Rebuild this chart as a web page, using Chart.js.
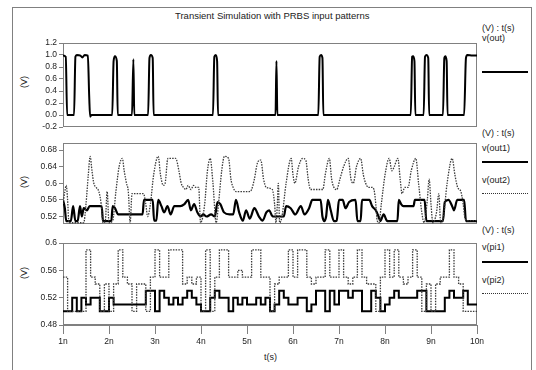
<!DOCTYPE html>
<html>
<head>
<meta charset="utf-8">
<script src="https://cdn.jsdelivr.net/npm/chart.js@4.4.1/dist/chart.umd.min.js"></script>
<style>
  body { margin: 0; width: 536px; height: 370px; background: #fff; position: relative; overflow: hidden;
         font-family: "Liberation Sans", Arial, sans-serif; color: #222; }
  .frame { position: absolute; left: 12px; top: 7px; width: 520px; height: 380px; border: 1px solid #808080; box-sizing: border-box; }
  canvas { position: absolute; left: 0; }
  .t { position: absolute; font-size: 9px; line-height: 10px; white-space: nowrap; }
  .ylab { position: absolute; left: 14px; width: 20px; text-align: center; font-size: 9px; line-height: 10px; transform: rotate(-90deg); }
  .sw { position: absolute; left: 482px; width: 46px; height: 0; }
</style>
</head>
<body>
<div class="frame"></div>
<div class="t" style="left:175px;top:11px;font-size:9.5px">Transient Simulation with PRBS input patterns</div>

<div class="t" style="left:482px;top:23px">(V) : t(s)</div>
<div class="t" style="left:482px;top:33px">v(out)</div>
<div class="sw" style="top:71px;border-top:2px solid #000"></div>

<div class="t" style="left:482px;top:128px">(V) : t(s)</div>
<div class="t" style="left:482px;top:143px">v(out1)</div>
<div class="sw" style="top:161px;border-top:2px solid #000"></div>
<div class="t" style="left:482px;top:175px">v(out2)</div>
<div class="sw" style="top:193px;border-top:1px dotted #333"></div>

<div class="t" style="left:482px;top:225px">(V) : t(s)</div>
<div class="t" style="left:482px;top:242px">v(pi1)</div>
<div class="sw" style="top:261px;border-top:2px solid #000"></div>
<div class="t" style="left:482px;top:275px">v(pi2)</div>
<div class="sw" style="top:293px;border-top:1px dotted #333"></div>

<div class="ylab" style="top:77px">(V)</div>
<div class="ylab" style="top:177px">(V)</div>
<div class="ylab" style="top:268px">(V)</div>
<div class="t" style="left:264px;top:352px">t(s)</div>

<canvas id="outChart" width="536" height="110" style="top:30px"></canvas>
<canvas id="out12Chart" width="536" height="100" style="top:135px"></canvas>
<canvas id="piChart" width="536" height="135" style="top:235px"></canvas>

<script>
// v(out): time (ns), volts
const V_OUT = [
  [1.00, 0.99], [1.06, 0.97], [1.09, 0.0], [1.24, 0.0], [1.27, 0.97], [1.30, 1.0], [1.38, 0.99],
  [1.42, 0.96], [1.47, 1.0], [1.54, 0.99], [1.57, 0.3], [1.59, -0.03], [1.62, 0.0],
  [2.07, 0.0], [2.10, 0.9], [2.13, 0.98], [2.17, 0.9], [2.19, 0.0],
  [2.50, 0.0], [2.53, 0.93], [2.55, 0.0],
  [2.85, 0.0], [2.88, 0.95], [2.91, 1.0], [2.95, 0.95], [2.97, 0.0],
  [4.26, 0.0], [4.29, 0.97], [4.32, 1.0], [4.35, 0.9], [4.37, 0.0],
  [5.62, 0.0], [5.64, 0.9], [5.66, 0.0],
  [6.55, 0.0], [6.58, 0.97], [6.61, 1.0], [6.64, 0.95], [6.66, 0.0],
  [8.56, 0.0], [8.59, 0.97], [8.61, 0.98], [8.64, 0.9], [8.66, 0.0],
  [8.84, 0.0], [8.87, 0.97], [8.90, 1.0], [8.94, 0.95], [8.96, 0.0],
  [9.26, 0.0], [9.29, 0.95], [9.31, 0.98], [9.34, 0.9], [9.36, 0.0],
  [9.72, 0.0], [9.76, 0.95], [9.79, 1.0], [9.90, 0.99], [10.0, 0.99]
];

const V_OUT1 = [
  [1.00, 0.56], [1.04, 0.54], [1.07, 0.509], [1.17, 0.509], [1.22, 0.545], [1.27, 0.509], [1.32, 0.51],
  [1.37, 0.545], [1.41, 0.52], [1.45, 0.54], [1.52, 0.535], [1.58, 0.545], [1.84, 0.545], [1.87, 0.509],
  [2.05, 0.509], [2.08, 0.545], [2.13, 0.54], [2.20, 0.525], [2.73, 0.525], [2.76, 0.56], [2.95, 0.56],
  [2.98, 0.51], [3.03, 0.51], [3.07, 0.56], [3.14, 0.545], [3.20, 0.53], [3.27, 0.545], [3.34, 0.525],
  [3.42, 0.545], [3.55, 0.545], [3.64, 0.55], [3.72, 0.56], [3.78, 0.535], [3.85, 0.55], [3.92, 0.53],
  [3.99, 0.52], [4.05, 0.525], [4.12, 0.52], [4.22, 0.525], [4.30, 0.52], [4.36, 0.555], [4.42, 0.55],
  [4.50, 0.53], [4.62, 0.525], [4.70, 0.525], [4.76, 0.56], [4.83, 0.53], [4.91, 0.51], [4.98, 0.535],
  [5.06, 0.515], [5.16, 0.54], [5.26, 0.52], [5.34, 0.51], [5.42, 0.53], [5.48, 0.535], [5.56, 0.52],
  [5.80, 0.52], [5.85, 0.545], [5.95, 0.54], [6.05, 0.525], [6.17, 0.545], [6.25, 0.525], [6.35, 0.54],
  [6.42, 0.56], [6.60, 0.56], [6.64, 0.52], [6.68, 0.509], [6.72, 0.52], [6.76, 0.56], [6.82, 0.535],
  [6.89, 0.509], [6.95, 0.51], [7.00, 0.56], [7.08, 0.56], [7.14, 0.54], [7.22, 0.555], [7.36, 0.56],
  [7.40, 0.509], [7.47, 0.509], [7.50, 0.56], [7.66, 0.56], [7.72, 0.545], [7.80, 0.535], [7.86, 0.52],
  [7.90, 0.509], [7.97, 0.525], [8.05, 0.509], [8.27, 0.509], [8.30, 0.56], [8.35, 0.55], [8.40, 0.545],
  [8.62, 0.545], [8.65, 0.56], [8.86, 0.56], [8.90, 0.509], [9.26, 0.509], [9.30, 0.555], [9.38, 0.56],
  [9.46, 0.545], [9.50, 0.535], [9.57, 0.56], [9.72, 0.56], [9.76, 0.509], [10.0, 0.509]
];

const V_OUT2 = [
  [1.00, 0.55], [1.04, 0.58], [1.07, 0.595], [1.10, 0.56], [1.13, 0.505], [1.45, 0.505], [1.50, 0.55],
  [1.55, 0.62], [1.59, 0.665], [1.63, 0.63], [1.67, 0.60], [1.72, 0.59], [1.78, 0.58], [1.83, 0.55],
  [1.87, 0.505], [1.92, 0.51], [1.96, 0.58], [2.00, 0.505], [2.08, 0.51], [2.15, 0.58], [2.22, 0.64],
  [2.29, 0.66], [2.33, 0.63], [2.38, 0.60], [2.42, 0.58], [2.46, 0.505], [2.50, 0.575], [2.75, 0.575],
  [2.80, 0.55], [2.84, 0.52], [2.90, 0.55], [2.97, 0.62], [3.07, 0.665], [3.12, 0.62], [3.18, 0.595],
  [3.22, 0.60], [3.28, 0.66], [3.45, 0.66], [3.52, 0.63], [3.57, 0.60], [3.62, 0.59], [3.67, 0.585],
  [3.72, 0.595], [3.78, 0.585], [3.84, 0.595], [3.89, 0.59], [3.95, 0.59], [3.99, 0.505], [4.08, 0.55],
  [4.14, 0.63], [4.20, 0.66], [4.26, 0.60], [4.33, 0.505], [4.38, 0.55], [4.45, 0.63], [4.51, 0.665],
  [4.60, 0.66], [4.65, 0.61], [4.70, 0.59], [4.76, 0.58], [5.05, 0.58], [5.10, 0.585], [5.16, 0.61],
  [5.23, 0.65], [5.30, 0.656], [5.36, 0.61], [5.42, 0.59], [5.55, 0.585], [5.60, 0.55], [5.63, 0.505],
  [5.66, 0.55], [5.68, 0.60], [5.71, 0.505], [5.76, 0.52], [5.85, 0.60], [5.96, 0.66], [6.00, 0.62],
  [6.04, 0.60], [6.12, 0.64], [6.21, 0.66], [6.28, 0.655], [6.33, 0.61], [6.38, 0.585], [6.65, 0.585],
  [6.70, 0.62], [6.79, 0.66], [6.84, 0.61], [6.89, 0.59], [6.95, 0.585], [7.02, 0.61], [7.10, 0.64],
  [7.20, 0.66], [7.26, 0.61], [7.31, 0.60], [7.38, 0.64], [7.47, 0.66], [7.53, 0.62], [7.58, 0.60],
  [7.64, 0.59], [7.72, 0.59], [7.76, 0.585], [7.80, 0.55], [7.83, 0.51], [7.87, 0.505], [7.92, 0.55],
  [8.00, 0.62], [8.09, 0.66], [8.15, 0.63], [8.20, 0.64], [8.28, 0.66], [8.33, 0.61], [8.37, 0.575],
  [8.43, 0.59], [8.50, 0.59], [8.57, 0.63], [8.67, 0.66], [8.73, 0.60], [8.80, 0.53], [8.85, 0.505],
  [8.92, 0.56], [8.96, 0.61], [9.00, 0.55], [9.04, 0.505], [9.12, 0.53], [9.17, 0.575], [9.21, 0.505],
  [9.27, 0.52], [9.35, 0.60], [9.46, 0.66], [9.52, 0.62], [9.58, 0.59], [9.65, 0.58], [9.70, 0.55],
  [9.74, 0.515], [9.80, 0.51], [10.0, 0.51]
];

// PRBS input levels, one value per 0.1 ns bit starting at 1 ns
const BIT_START = 1;
const BIT_NS = 0.1;
const PI1_BITS = [
  0.50, 0.50, 0.52, 0.50, 0.52, 0.51, 0.52, 0.52, 0.50, 0.50,
  0.52, 0.51, 0.51, 0.51, 0.51, 0.51, 0.51, 0.51, 0.53, 0.53,
  0.50, 0.53, 0.52, 0.51, 0.52, 0.51, 0.52, 0.53, 0.52, 0.51,
  0.50, 0.50, 0.52, 0.53, 0.52, 0.52, 0.50, 0.52, 0.51, 0.52,
  0.51, 0.51, 0.52, 0.51, 0.52, 0.50, 0.51, 0.53, 0.52, 0.51,
  0.51, 0.52, 0.52, 0.50, 0.51, 0.53, 0.53, 0.50, 0.53, 0.51,
  0.53, 0.53, 0.52, 0.53, 0.53, 0.50, 0.50, 0.53, 0.52, 0.50,
  0.51, 0.52, 0.53, 0.52, 0.52, 0.52, 0.52, 0.53, 0.53, 0.50,
  0.50, 0.50, 0.50, 0.52, 0.53, 0.52, 0.52, 0.53, 0.51, 0.51
];
const PI2_BITS = [
  0.55, 0.50, 0.50, 0.50, 0.50, 0.59, 0.55, 0.54, 0.50, 0.54,
  0.50, 0.54, 0.59, 0.55, 0.54, 0.50, 0.54, 0.54, 0.50, 0.55,
  0.59, 0.55, 0.55, 0.59, 0.59, 0.59, 0.54, 0.55, 0.54, 0.55,
  0.50, 0.59, 0.50, 0.55, 0.59, 0.59, 0.55, 0.55, 0.56, 0.55,
  0.55, 0.59, 0.59, 0.55, 0.55, 0.50, 0.54, 0.55, 0.55, 0.59,
  0.55, 0.59, 0.59, 0.55, 0.54, 0.55, 0.55, 0.59, 0.55, 0.55,
  0.59, 0.55, 0.54, 0.55, 0.59, 0.55, 0.54, 0.54, 0.50, 0.55,
  0.59, 0.55, 0.59, 0.55, 0.54, 0.55, 0.59, 0.55, 0.50, 0.54,
  0.50, 0.54, 0.55, 0.55, 0.59, 0.55, 0.54, 0.50, 0.50, 0.50
];

const X_TICKS = [1, 2, 3, 4, 5, 6, 7, 8, 9, 10];
const X_TICK_LABELS = ["1n", "2n", "3n", "4n", "5n", "6n", "7n", "8n", "9n", "10n"];
const OUT_TICKS = [1.2, 1.0, 0.8, 0.6, 0.4, 0.2, 0.0, -0.2];
const OUT_TICK_LABELS = ["1.2", "1.0", "0.8", "0.6", "0.4", "0.2", "0.0", "-0.2"];
const OUT12_TICKS = [0.68, 0.64, 0.6, 0.56, 0.52];
const OUT12_TICK_LABELS = ["0.68", "0.64", "0.6", "0.56", "0.52"];
const PI_TICKS = [0.6, 0.56, 0.52, 0.48];
const PI_TICK_LABELS = ["0.6", "0.56", "0.52", "0.48"];

const AXIS = "#808080";
const INK = "#222";
const TICK_FONT = { family: "'Liberation Sans', Arial, sans-serif", size: 8.5 };

const toPoints = (pairs) => pairs.map(([x, y]) => ({ x, y }));
const bitPoints = (bits) => {
  const pts = bits.map((v, i) => ({ x: BIT_START + i * BIT_NS, y: v }));
  pts.push({ x: BIT_START + bits.length * BIT_NS, y: bits[bits.length - 1] });
  return pts;
};

// Grey frame round each plot area.
const boxPlugin = {
  id: "box",
  beforeDatasetsDraw(chart) {
    const { ctx, chartArea: a } = chart;
    ctx.save();
    ctx.strokeStyle = AXIS;
    ctx.lineWidth = 1;
    ctx.strokeRect(a.left + 0.5, a.top + 0.5, a.right - a.left - 1, a.bottom - a.top - 1);
    ctx.restore();
  }
};

function yScale(min, max, ticks, labels) {
  return {
    min, max,
    afterFit: (s) => { s.width = 63; },
    afterBuildTicks: (s) => { s.ticks = ticks.map((value) => ({ value })); },
    border: { display: false },
    grid: { drawOnChartArea: false, drawTicks: true, tickLength: 4, color: AXIS },
    ticks: {
      font: TICK_FONT, color: INK, padding: 2, autoSkip: false,
      callback: (value) => labels[ticks.indexOf(value)]
    }
  };
}

function xScale(show) {
  if (!show) return { type: "linear", min: 1, max: 10, display: false };
  return {
    type: "linear", min: 1, max: 10,
    afterFit: (s) => { s.height = 45; },
    afterBuildTicks: (s) => { s.ticks = X_TICKS.map((value) => ({ value })); },
    border: { display: true, color: AXIS },
    grid: { drawOnChartArea: false, drawTicks: true, tickLength: 9, color: AXIS },
    ticks: {
      font: TICK_FONT, color: INK, padding: 3, maxRotation: 0, autoSkip: false,
      callback: (value) => X_TICK_LABELS[X_TICKS.indexOf(value)]
    }
  };
}

function solid(data, extra) {
  return Object.assign({ data, borderColor: "#000", borderWidth: 2, pointRadius: 0, fill: false }, extra);
}
function dotted(data, extra) {
  return Object.assign({ data, borderColor: "#3a3a3a", borderWidth: 1.3, borderDash: [1.5, 1.2],
                         pointRadius: 0, fill: false }, extra);
}

function panel(id, datasets, y, showX, padding) {
  return new Chart(document.getElementById(id), {
    type: "line",
    data: { datasets },
    options: {
      responsive: false,
      animation: false,
      devicePixelRatio: 1,
      parsing: false,
      layout: { padding },
      plugins: { legend: { display: false }, tooltip: { enabled: false } },
      scales: { x: xScale(showX), y }
    },
    plugins: [boxPlugin]
  });
}

panel("outChart",
  [solid(toPoints(V_OUT), { cubicInterpolationMode: "monotone" })],
  yScale(-0.2, 1.2, OUT_TICKS, OUT_TICK_LABELS), false,
  { top: 13, bottom: 13, left: 0, right: 59 });

panel("out12Chart",
  [dotted(toPoints(V_OUT2), { cubicInterpolationMode: "monotone" }),
   solid(toPoints(V_OUT1), { cubicInterpolationMode: "monotone", borderWidth: 2.2 })],
  yScale(0.502, 0.697, OUT12_TICKS, OUT12_TICK_LABELS), false,
  { top: 8, bottom: 11, left: 0, right: 59 });

panel("piChart",
  [dotted(bitPoints(PI2_BITS), { stepped: "before" }),
   solid(bitPoints(PI1_BITS), { stepped: "before" })],
  yScale(0.48, 0.6, PI_TICKS, PI_TICK_LABELS), true,
  { top: 8, bottom: 0, left: 0, right: 59 });
</script>
</body>
</html>
